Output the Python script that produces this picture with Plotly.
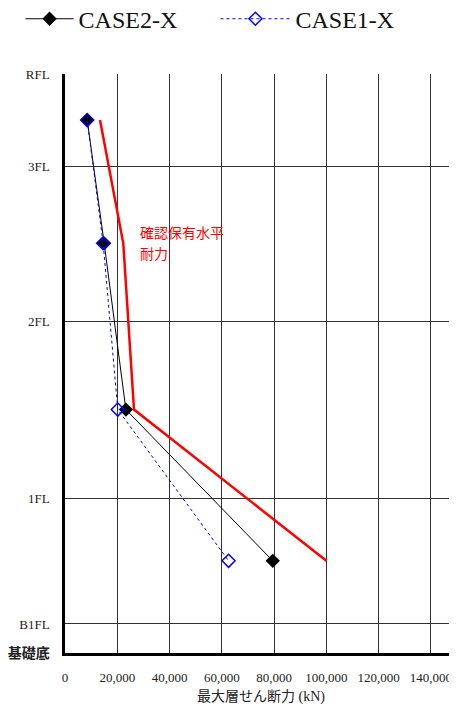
import plotly.graph_objects as go

# Floor levels (relative elevation) and labels
floor_levels = [0, 29, 154, 331, 486, 578]
floor_labels = ["<b><span style='font-size:14px'>基礎底</span></b>", "B1FL", "1FL", "2FL", "3FL", "RFL"]

# Story mid-heights where shear is plotted (top story first)
story_heights = [532, 409, 243, 92]

# Maximum story shear (kN)
case2_x = [8500, 15000, 23300, 79500]
case1_x = [8500, 14600, 20200, 62600]
capacity = [13400, 22300, 26400, 100000]

x_ticks = [0, 20000, 40000, 60000, 80000, 100000, 120000, 140000]
x_tick_labels = ["0", "20,000", "40,000", "60,000", "80,000", "100,000", "120,000", "140,000"]

serif = "Liberation Serif, Noto Sans CJK JP"

fig = go.Figure()
fig.add_trace(go.Scatter(
    x=capacity, y=story_heights, mode="lines",
    line=dict(color="#ff0000", width=2.5), showlegend=False, hoverinfo="skip"))
fig.add_trace(go.Scatter(
    x=case2_x, y=story_heights, mode="lines+markers", name="CASE2-X",
    line=dict(color="black", width=1),
    marker=dict(symbol="diamond", size=11, color="black"), legend="legend"))
fig.add_trace(go.Scatter(
    x=case1_x, y=story_heights, mode="lines+markers", name="CASE1-X",
    line=dict(color="#0000ff", width=1, dash="dot"),
    marker=dict(symbol="diamond-open", size=10, color="#0000ff", line=dict(width=1.5)),
    legend="legend2"))

fig.add_annotation(x=28000, y=420, xref="x", yref="y", text="確認保有水平",
                   showarrow=False, xanchor="left", yanchor="middle",
                   font=dict(family="Noto Sans CJK JP", size=14, color="#ff0000"))
fig.add_annotation(x=28000, y=399, xref="x", yref="y", text="耐力",
                   showarrow=False, xanchor="left", yanchor="middle",
                   font=dict(family="Noto Sans CJK JP", size=14, color="#ff0000"))

legend_common = dict(orientation="h", xref="container", yref="container",
                     y=0.984, xanchor="left", yanchor="middle",
                     bgcolor="rgba(0,0,0,0)",
                     font=dict(family=serif, size=24, color="#111"))

fig.update_layout(
    width=449, height=697,
    margin=dict(l=57, r=0, t=66, b=52, autoexpand=False),
    plot_bgcolor="white", paper_bgcolor="white",
    font=dict(family=serif, size=13, color="#222"),
    legend=dict(legend_common, x=0.028, itemwidth=48),
    legend2=dict(legend_common, x=0.462, itemwidth=70),
    xaxis=dict(range=[0, 150000], tickvals=x_ticks, ticktext=x_tick_labels,
               showgrid=True, gridcolor="#333", gridwidth=1.3,
               showline=True, linecolor="black", linewidth=3,
               zeroline=False, ticks="", ticklabelstandoff=10,
               tickfont=dict(family=serif, size=13, color="#222"),
               title=dict(text="最大層せん断力 (kN)", standoff=25,
                          font=dict(family=serif, size=14, color="#222"))),
    yaxis=dict(range=[0, 578], tickvals=floor_levels, ticktext=floor_labels,
               showgrid=True, gridcolor="#333", gridwidth=1.3,
               showline=True, linecolor="black", linewidth=2.5,
               zeroline=False, ticks="", ticklabelstandoff=10,
               tickfont=dict(family=serif, size=13, color="#222")),
)

fig.write_html("out.html")
